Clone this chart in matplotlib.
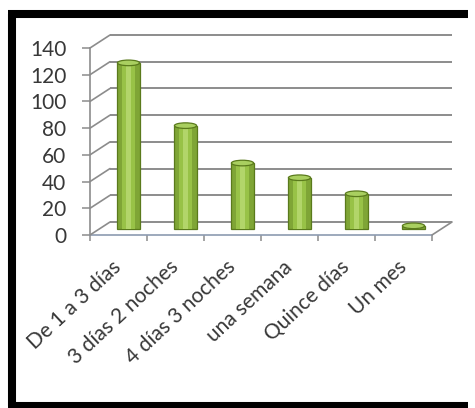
import matplotlib
matplotlib.use("Agg")
import matplotlib.pyplot as plt
from matplotlib.lines import Line2D
from matplotlib.patches import Ellipse
from matplotlib.transforms import ScaledTranslation

categories = ["De 1 a 3 días", "3 días 2 noches", "4 días 3 noches",
              "una semana", "Quince días", "Un mes"]
values = [124, 77, 49, 38, 26, 2]
yticks = [0, 20, 40, 60, 80, 100, 120, 140]

plt.rcParams['font.family'] = ['Lato', 'DejaVu Sans']

fig = plt.figure(figsize=(4.75, 4.08), dpi=100)
fig.patch.set_facecolor('white')

# black frame: left, top and bottom (the right side runs off the picture)
W, H = 475, 408
frame = [([12, 12], [2, 394]), ([8, 468], [394, 394]), ([8, 468], [2.5, 2.5])]
for fx, fy in frame:
    fig.add_artist(Line2D([v / W for v in fx], [v / H for v in fy],
                          transform=fig.transFigure, color='black', lw=5.8,
                          solid_capstyle='butt'))

ax = fig.add_axes([90 / W, 173 / H, 342 / W, 187 / H])
ax.set_xlim(0, len(categories))
ax.set_ylim(0, 140)
ax.patch.set_alpha(0)

# 3d depth offsets (back wall and mid depth for the cylinders)
back = ax.transData + ScaledTranslation(0.20, 0.13, fig.dpi_scale_trans)
mid = ax.transData + ScaledTranslation(0.10, 0.065, fig.dpi_scale_trans)

grid_c = '#8c8c8c'
ax.hlines(yticks, 0, len(categories), colors=grid_c, lw=1.4,
          transform=back, clip_on=False, zorder=1)
for v in yticks:
    ax.annotate('', xy=(0, v), xytext=(20, 13), textcoords='offset pixels',
                arrowprops=dict(arrowstyle='-', color=grid_c, lw=1.2,
                                shrinkA=0, shrinkB=0), annotation_clip=False)
ax.annotate('', xy=(len(categories), 0), xytext=(20, 13), textcoords='offset pixels',
            arrowprops=dict(arrowstyle='-', color=grid_c, lw=1.2,
                            shrinkA=0, shrinkB=0), annotation_clip=False)

# cylinders
xs = [i + 0.5 for i in range(len(categories))]
w = 0.39
ax.bar(xs, values, width=w, color='#7fa536', edgecolor='#5a7a1c', lw=0.9,
       transform=mid, clip_on=False, zorder=3)
ax.bar(xs, values, width=w * 0.62, color='#98c247', lw=0,
       transform=mid, clip_on=False, zorder=3)
ax.bar(xs, values, width=w * 0.25, color='#b2d56a', lw=0,
       transform=mid, clip_on=False, zorder=3)
for x, v in zip(xs, values):
    ax.add_patch(Ellipse((x, v), w, 4.2, transform=mid, facecolor='#a9cf60',
                         edgecolor='#5a7a1c', lw=0.9, zorder=4, clip_on=False))

# axes lines
for s in ['top', 'right']:
    ax.spines[s].set_visible(False)
ax.spines['left'].set_color('#8c8c8c')
ax.spines['bottom'].set_color('#8c9bb0')
ax.spines['left'].set_linewidth(1.2)
ax.spines['bottom'].set_linewidth(1.2)

ax.set_yticks(yticks)
ax.tick_params(axis='y', length=6, width=1.1, color='#8c8c8c', pad=11,
               labelsize=15, labelcolor='#383838')

ax.set_xticks(range(len(categories) + 1))
ax.set_xticklabels([])
ax.tick_params(axis='x', which='major', length=4, width=1.1, color='#8c8c8c')
ax.set_xticks(xs, minor=True)
ax.set_xticklabels(categories, minor=True, rotation=43, ha='right',
                   va='center', rotation_mode='anchor')
ax.tick_params(axis='x', which='minor', length=0, pad=21, labelsize=15,
               labelcolor='#383838')

fig.savefig('out.png', dpi=100)
